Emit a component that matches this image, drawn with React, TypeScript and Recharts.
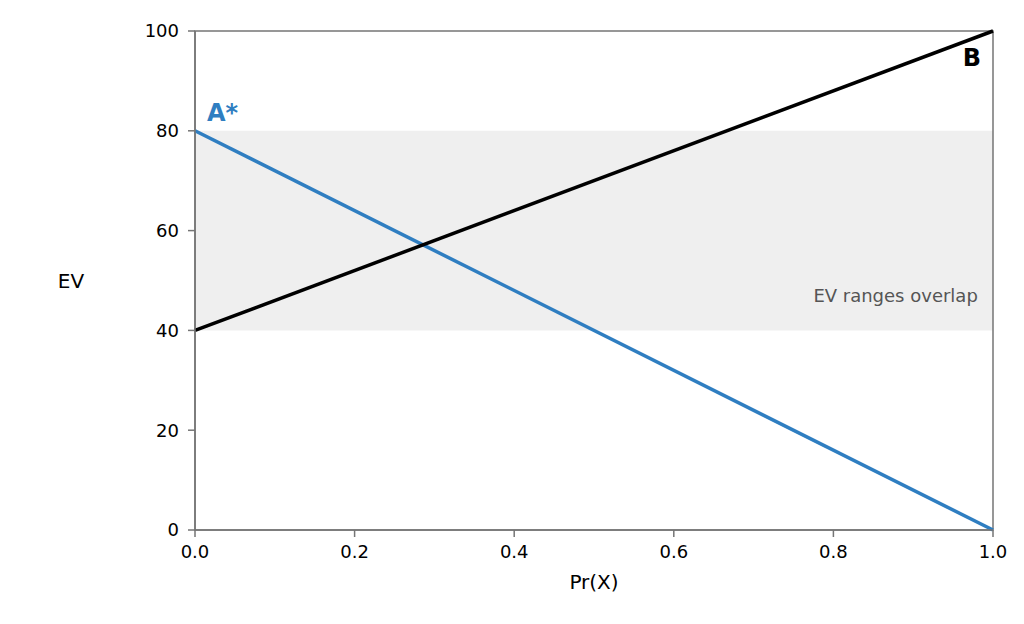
import React from "react";
import {
  LineChart,
  Line,
  XAxis,
  YAxis,
  ReferenceArea,
  ReferenceDot,
} from "recharts";

const probabilities = [0, 1];
const evA = [80, 0];
const evB = [40, 100];
const xTicks = [0, 0.2, 0.4, 0.6, 0.8, 1];
const yTicks = [0, 20, 40, 60, 80, 100];
const overlapRange = [40, 80];

const data = probabilities.map((p, i) => ({ p, a: evA[i], b: evB[i] }));

const FONT = "DejaVu Sans, sans-serif";
const BLUE = "#2f7ec1";
const FRAME = "#757575";

export default function App() {
  return (
    <div style={{ margin: "-8px 0 0 -8px", width: 1024, height: 624 }}>
      <LineChart
        width={1024}
        height={624}
        data={data}
        margin={{ top: 31, right: 31, bottom: 64, left: 135 }}
        style={{ fontFamily: FONT }}
      >
        <ReferenceArea
          y1={overlapRange[0]}
          y2={overlapRange[1]}
          x1={0}
          x2={1}
          fill="#efefef"
          fillOpacity={1}
          stroke="none"
        />
        <XAxis
          dataKey="p"
          type="number"
          domain={[0, 1]}
          ticks={xTicks}
          tickFormatter={(v: number) => v.toFixed(1)}
          height={30}
          tickSize={7}
          tickMargin={8}
          stroke={FRAME}
          strokeWidth={1.5}
          tick={{ fill: "#000", fontSize: 18 }}
          label={{
            content: (props: any) => {
              const vb = props.viewBox;
              return (
                <text
                  x={vb.x + vb.width / 2}
                  y={589}
                  textAnchor="middle"
                  fontSize={20}
                  fill="#000"
                  fontFamily={FONT}
                >
                  Pr(X)
                </text>
              );
            },
          }}
        />
        <YAxis
          type="number"
          domain={[0, 100]}
          ticks={yTicks}
          width={60}
          tickSize={7}
          tickMargin={9}
          stroke={FRAME}
          strokeWidth={1.5}
          tick={{ fill: "#000", fontSize: 18 }}
          label={{
            content: (props: any) => {
              const vb = props.viewBox;
              return (
                <text
                  x={71}
                  y={vb.y + vb.height / 2 + 7}
                  textAnchor="middle"
                  fontSize={20}
                  fill="#000"
                  fontFamily={FONT}
                >
                  EV
                </text>
              );
            },
          }}
        />
        <ReferenceArea
          x1={0}
          x2={1}
          y1={0}
          y2={100}
          fill="none"
          stroke={FRAME}
          strokeWidth={1.5}
        />
        <Line
          dataKey="a"
          stroke={BLUE}
          strokeWidth={3.5}
          dot={false}
          isAnimationActive={false}
        />
        <Line
          dataKey="b"
          stroke="#000"
          strokeWidth={3.5}
          dot={false}
          isAnimationActive={false}
        />
        <ReferenceDot
          x={0.015}
          y={82}
          r={0}
          shape={(props: any) => (
            <text
              x={props.cx}
              y={props.cy}
              fill={BLUE}
              fontSize={24}
              fontWeight="bold"
              fontFamily={FONT}
            >
              A*
            </text>
          )}
        />
        <ReferenceDot
          x={0.985}
          y={93}
          r={0}
          shape={(props: any) => (
            <text
              x={props.cx}
              y={props.cy}
              fill="#000"
              fontSize={24}
              fontWeight="bold"
              textAnchor="end"
              fontFamily={FONT}
            >
              B
            </text>
          )}
        />
        <ReferenceDot
          x={0.981}
          y={45.7}
          r={0}
          shape={(props: any) => (
            <text
              x={props.cx}
              y={props.cy}
              fill="#555"
              fontSize={18}
              textAnchor="end"
              fontFamily={FONT}
            >
              EV ranges overlap
            </text>
          )}
        />
      </LineChart>
    </div>
  );
}
